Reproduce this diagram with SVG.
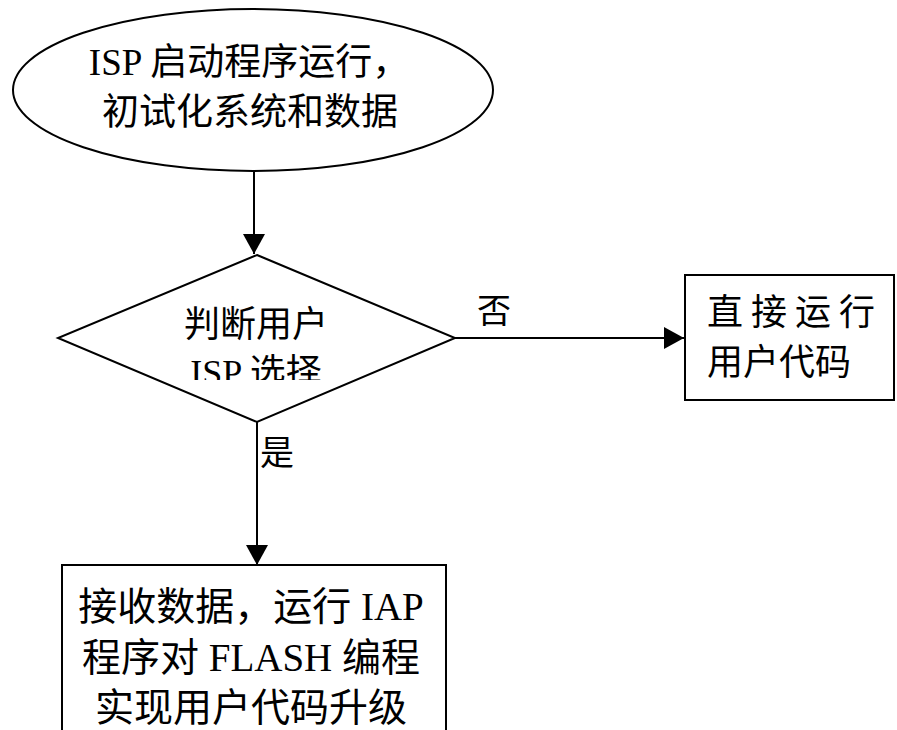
<svg xmlns="http://www.w3.org/2000/svg" width="897" height="730" viewBox="0 0 897 730">
<style>
.shape{fill:#fff;stroke:#000;stroke-width:2}
.conn{fill:none;stroke:#000;stroke-width:2}
text{font-family:"Liberation Serif","Noto Sans CJK SC",serif;fill:#000}
</style>
<defs>
<marker id="arr" markerUnits="userSpaceOnUse" markerWidth="20" markerHeight="22" refX="20" refY="11" orient="auto">
<path d="M0,0 L20,11 L0,22 z" fill="#000"/>
</marker>
<clipPath id="dclip"><rect x="0" y="0" width="897" height="380"/></clipPath>
</defs>
<rect width="897" height="730" fill="#fff"/>
<g id="start">
<ellipse class="shape" cx="253" cy="90" rx="240" ry="81"/>
<text x="249" y="75" font-size="37" text-anchor="middle">ISP 启动程序运行，</text>
<text x="250" y="125" font-size="37" text-anchor="middle">初试化系统和数据</text>
</g>
<g id="decision">
<polygon class="shape" points="257,255 455,338 257,422 58,338"/>
<text x="256" y="337" font-size="36" text-anchor="middle">判断用户</text>
<text x="256" y="385" font-size="36" text-anchor="middle" clip-path="url(#dclip)">ISP 选择</text>
</g>
<g id="direct">
<rect class="shape" x="685" y="275" width="209" height="125"/>
<text x="707 751 795 839" y="325" font-size="36">直接运行</text>
<text x="707" y="375" font-size="36">用户代码</text>
</g>
<g id="upgrade">
<rect class="shape" x="62" y="565" width="384" height="180"/>
<text x="251" y="620" font-size="39" text-anchor="middle">接收数据，运行 IAP</text>
<text x="251" y="671" font-size="39" text-anchor="middle">程序对 FLASH 编程</text>
<text x="251" y="721" font-size="39" text-anchor="middle">实现用户代码升级</text>
</g>
<g id="connectors">
<line class="conn" x1="254" y1="171" x2="254" y2="254" marker-end="url(#arr)"/>
<line class="conn" x1="455" y1="338" x2="684" y2="338" marker-end="url(#arr)"/>
<line class="conn" x1="257" y1="422" x2="257" y2="565" marker-end="url(#arr)"/>
<text x="477" y="323" font-size="34">否</text>
<text x="260" y="465" font-size="34">是</text>
</g>
</svg>
